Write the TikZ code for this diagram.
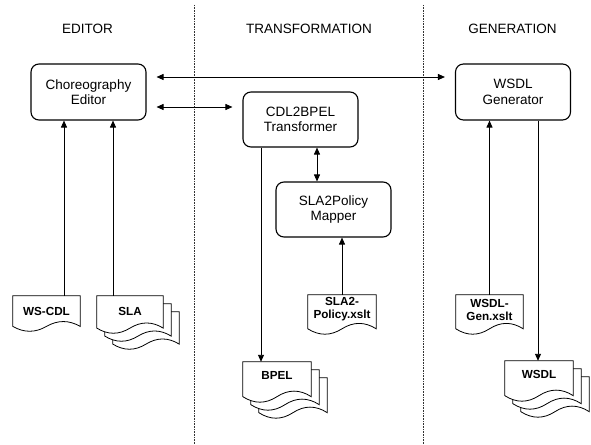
\documentclass[tikz,border=0pt]{standalone}
\usepackage{fontspec}
\setmainfont{Liberation Sans}
\usetikzlibrary{arrows.meta,calc}
\pgfdeclarelayer{background}
\pgfsetlayers{background,main}

\tikzset{
  tool/.style={draw, line width=1.1pt, rounded corners=8pt, align=center,
    minimum width=115pt, minimum height=56pt, inner sep=0pt,
    font=\fontsize{13.5}{15.5}\selectfont},
  lane/.style={font=\fontsize{13.5}{16}\selectfont, inner sep=0pt},
  docnode/.style={align=center, inner sep=0pt, minimum width=67pt,
    font=\fontsize{11.7}{13}\selectfont\bfseries},
  docline/.style={draw, fill=white, line width=0.8pt},
  tip/.style={-{Triangle[length=7pt,width=6pt]}, line width=0.9pt},
  bitip/.style={{Triangle[length=7pt,width=6pt]}-{Triangle[length=7pt,width=6pt]}, line width=0.9pt},
  divider/.style={line width=0.7pt, dash pattern=on 0.8pt off 0.8pt, black!80},
}

% one sheet of a document symbol: node, full height, sheet offset
\newcommand\docsheet[3]{%
  \path[docline] let \p1=(#1.north west), \p2=(#1.north east),
      \n{w}={\x2-\x1}, \n{d}={0.3*#2}, \n{b}={\y1-#2-#3} in
    (\x1+#3,\y1-#3) -- (\x2+#3,\y1-#3) -- (\x2+#3,\n{b}+0.5*\n{d})
    .. controls (\x2+#3-\n{w}/6,\n{b}+1.1*\n{d}) and (\x1+#3+2*\n{w}/3,\n{b}+1.1*\n{d})
    .. (\x1+#3+0.5*\n{w},\n{b}+0.5*\n{d})
    .. controls (\x1+#3+\n{w}/3,\n{b}-0.1*\n{d}) and (\x1+#3+\n{w}/6,\n{b}-0.1*\n{d})
    .. (\x1+#3,\n{b}+0.5*\n{d}) -- cycle;}
\newcommand\docsingle[2]{\begin{pgfonlayer}{background}\docsheet{#1}{#2}{0}\end{pgfonlayer}}
\newcommand\docstack[2]{\begin{pgfonlayer}{background}%
  \docsheet{#1}{#2}{16}\docsheet{#1}{#2}{8}\docsheet{#1}{#2}{0}\end{pgfonlayer}}

\begin{document}
\begin{tikzpicture}[x=1pt,y=1pt]
\useasboundingbox (0,0) rectangle (591,-444);

% lane dividers
\draw[divider] (194.5,-5) -- (194.5,-444);
\draw[divider] (423.5,-5) -- (423.5,-444);

% lane titles
\node[lane] (t1) at (87.5,-29) {EDITOR};
\node[lane] (t2) at (309,-29) {TRANSFORMATION};
\node[lane] (t3) at (512.5,-29) {GENERATION};

% tools
\node[tool] (editor) at (88.5,-92) {Choreography\\Editor};
\node[tool, minimum height=55pt] (cdl) at (300.5,-119.5) {CDL2BPEL\\Transformer};
\node[tool, minimum height=55pt] (mapper) at (333.5,-209.5) {SLA2Policy\\Mapper};
\node[tool] (gen) at (513,-92) {WSDL\\Generator};

% documents
\node[docnode, minimum height=30pt] (wscdl) at (46.5,-311) {WS-CDL};
\docsingle{wscdl}{36}
\node[docnode, minimum width=66pt, minimum height=30pt] (sla) at (130,-311) {SLA};
\docstack{sla}{38}
\node[docnode, minimum width=68pt, minimum height=29pt] (pol) at (342,-309.5) {SLA2-\\Policy.xslt};
\docsingle{pol}{40}
\node[docnode, minimum height=29pt] (gdoc) at (489.5,-309.5) {WSDL-\\Gen.xslt};
\docsingle{gdoc}{40}
\node[docnode, minimum width=68pt, minimum height=27pt] (bpel) at (277,-375.5) {BPEL};
\docstack{bpel}{41}
\node[docnode, minimum width=68pt, minimum height=27pt] (wsdl) at (539,-374.5) {WSDL};
\docstack{wsdl}{41}

% connectors
\draw[bitip] ([shift={(10,15)}]editor.east) -- ([shift={(-10,15)}]gen.west);
\coordinate (a2) at ([shift={(10,-15)}]editor.east);
\draw[bitip] (a2) -- ($(a2 -| cdl.west)+(-10,0)$);

\coordinate (e1) at ([xshift=-24.5pt]editor.south);
\coordinate (e2) at ([xshift=24.5pt]editor.south);
\draw[tip] (e1 |- wscdl.north) -- (e1);
\draw[tip] (e2 |- sla.north) -- (e2);

\coordinate (c1) at ([xshift=-39.5pt]cdl.south);
\coordinate (c2) at ([xshift=16.5pt]cdl.south);
\draw[tip] (c1) -- (c1 |- bpel.north);
\draw[bitip] (c2) -- (c2 |- mapper.north);
\draw[tip] (pol.north) -- (pol.north |- mapper.south);

\draw[tip] (gdoc.north) -- (gdoc.north |- gen.south);
\coordinate (g1) at ([xshift=25pt]gen.south);
\draw[tip] (g1) -- (g1 |- wsdl.north);
\end{tikzpicture}
\end{document}
